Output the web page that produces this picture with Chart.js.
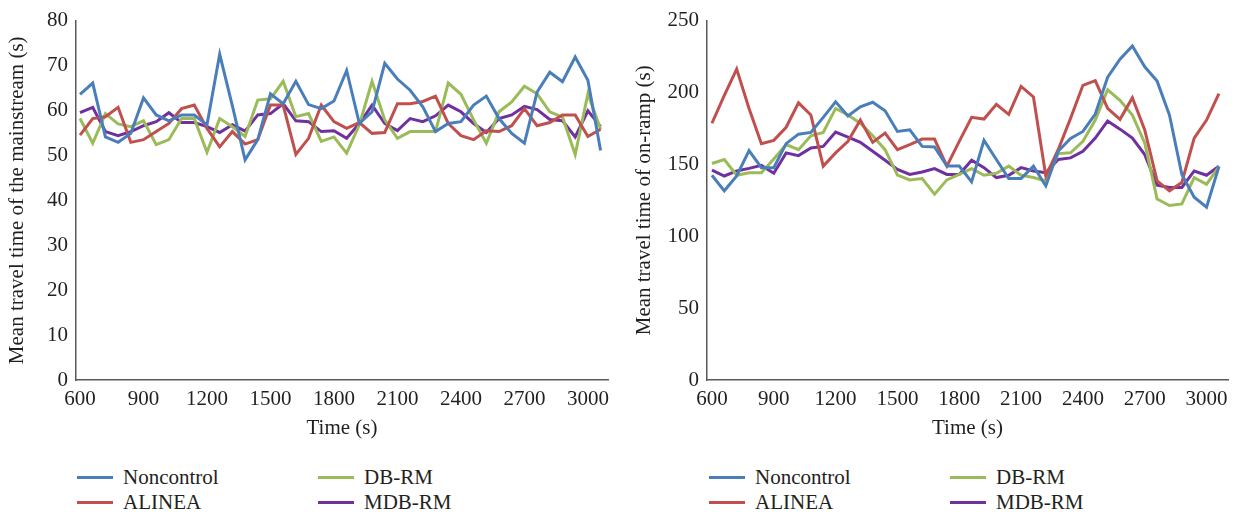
<!DOCTYPE html>
<html>
<head>
<meta charset="utf-8">
<script src="https://cdn.jsdelivr.net/npm/chart.js@4.4.0/dist/chart.umd.min.js"></script>
<style>
body { margin:0; background:#fff; width:1238px; height:514px; position:relative; overflow:hidden; font-family:'Liberation Serif', serif; }
.box { position:absolute; top:0; width:619px; height:445px; }
.item { position:absolute; height:26px; display:flex; align-items:center; white-space:nowrap; font-size:21px; color:#231f20; }
.item .line { display:inline-block; width:36px; height:3px; margin-right:10px; }
</style>
</head>
<body>
<div class="box" style="left:0"><canvas id="mainstreamChart" width="619" height="445"></canvas></div>
<div class="box" style="left:619px"><canvas id="onrampChart" width="619" height="445"></canvas></div>
<div id="legendLeft"></div>
<div id="legendRight"></div>
<script>
let times = [600, 660, 720, 780, 840, 900, 960, 1020, 1080, 1140, 1200, 1260, 1320, 1380, 1440, 1500, 1560, 1620, 1680, 1740, 1800,
    1860, 1920, 1980, 2040, 2100, 2160, 2220, 2280, 2340, 2400, 2460, 2520, 2580, 2640, 2700, 2760, 2820, 2880, 2940, 3000, 3060];
let xTicks = [600, 900, 1200, 1500, 1800, 2100, 2400, 2700, 3000];
let seriesNames = ['Noncontrol', 'ALINEA', 'DB-RM', 'MDB-RM'];
let seriesColors = ['#4a7ebb', '#c0504d', '#9bbb59', '#7030a0'];

// mean travel time of the mainstream (s)
let noncontrolMain = [63.6, 66.1, 54.1, 52.9, 54.9, 62.8, 59.0, 57.7, 59.0, 59.0, 56.8, 72.5, 61.0, 49.0, 53.5, 63.7, 61.5, 66.5, 61.3, 60.4, 62.1,
    68.9, 57.1, 59.7, 70.5, 67.0, 64.5, 60.8, 55.3, 57.1, 57.5, 61.2, 63.2, 58.2, 54.9, 52.7, 64.1, 68.5, 66.4, 71.9, 66.7, 51.1];
let alineaMain = [54.5, 58.2, 58.6, 60.7, 52.9, 53.5, 55.3, 57.1, 60.4, 61.2, 56.0, 51.9, 55.3, 52.5, 53.5, 61.2, 61.2, 50.2, 53.8, 61.2, 57.5,
    56.0, 57.3, 54.9, 55.1, 61.5, 61.5, 62.0, 63.2, 57.1, 54.4, 53.5, 55.5, 55.3, 56.6, 60.4, 56.6, 57.3, 59.0, 59.0, 54.2, 55.8];
let dbrmMain = [58.2, 52.7, 59.3, 57.0, 56.4, 57.7, 52.4, 53.5, 58.2, 58.2, 50.7, 58.2, 56.4, 54.2, 62.3, 62.6, 66.5, 58.6, 59.3, 53.1, 54.1,
    50.5, 56.8, 66.5, 57.9, 53.8, 55.3, 55.3, 55.3, 66.1, 63.6, 57.9, 52.7, 59.7, 61.9, 65.4, 63.7, 59.7, 58.5, 50.2, 63.7, 55.8];
let mdbrmMain = [59.5, 60.7, 55.3, 54.4, 55.3, 56.6, 57.5, 59.5, 57.3, 57.3, 56.4, 55.1, 56.8, 55.4, 59.0, 59.3, 61.5, 57.7, 57.5, 55.3, 55.5,
    53.8, 57.1, 61.2, 57.1, 55.5, 58.2, 57.5, 58.8, 61.2, 59.7, 57.1, 55.1, 58.2, 59.0, 60.9, 60.2, 58.0, 57.7, 54.1, 59.9, 56.4];

// mean travel time of on-ramp (s)
let noncontrolRamp = [142.4, 131.6, 141.9, 159.6, 147.7, 147.7, 164.4, 171.0, 172.2, 182.7, 193.5, 183.6, 190.0, 193.2, 187.3, 172.9, 174.0, 162.5, 162.1, 148.8, 148.8,
    137.8, 166.7, 153.4, 140.1, 140.1, 148.8, 135.0, 159.1, 168.0, 172.9, 185.0, 210.6, 223.2, 232.4, 217.9, 207.9, 184.3, 143.0, 127.1, 120.2, 148.4];
let alineaRamp = [178.6, 198.0, 216.3, 188.9, 164.4, 166.7, 175.8, 192.8, 184.3, 148.8, 158.0, 166.0, 180.8, 165.3, 171.7, 160.2, 163.7, 167.6, 167.6, 148.8, 166.0,
    182.7, 181.5, 191.8, 184.8, 204.2, 196.9, 141.9, 160.2, 182.0, 205.0, 208.3, 188.9, 181.3, 196.4, 174.0, 138.5, 131.6, 137.4, 168.3, 180.8, 199.2];
let dbrmRamp = [150.6, 153.4, 142.4, 144.2, 144.2, 153.8, 163.7, 160.2, 169.9, 172.2, 188.9, 184.3, 178.6, 169.9, 160.2, 142.5, 139.2, 140.1, 129.3, 139.2, 143.0,
    147.0, 142.4, 143.8, 148.8, 142.4, 140.8, 138.5, 157.5, 158.0, 166.0, 180.8, 201.9, 194.6, 184.3, 164.8, 125.9, 121.4, 122.5, 140.8, 136.2, 148.4];
let mdbrmRamp = [146.0, 141.9, 145.4, 147.2, 149.3, 143.8, 158.0, 156.1, 161.4, 162.5, 172.5, 169.0, 165.3, 159.1, 152.9, 146.5, 143.0, 144.7, 147.0, 143.0, 143.0,
    152.9, 147.7, 140.8, 142.4, 147.7, 145.4, 144.2, 153.4, 154.5, 159.1, 168.3, 180.2, 174.5, 168.3, 156.8, 135.5, 133.9, 133.9, 145.4, 142.4, 148.8];

let textColor = '#231f20';
let axisFont = { family: 'Liberation Serif', size: 21 };

function buildChart(canvasId, seriesList, yTitle, yMax, yStep, opts) {
    let ctx = document.getElementById(canvasId).getContext('2d');
    return new Chart(ctx, {
        type: 'line',
        data: {
            datasets: seriesList.map((values, i) => ({
                label: seriesNames[i],
                data: times.map((t, j) => ({ x: t, y: values[j] })),
                borderColor: seriesColors[i],
                backgroundColor: seriesColors[i],
                borderWidth: 3,
                tension: 0,
                pointRadius: 0,
                fill: false
            }))
        },
        options: {
            responsive: false,
            animation: false,
            layout: { padding: { top: 16, right: opts.padRight, left: 0, bottom: 0 } },
            plugins: { legend: { display: false }, tooltip: { enabled: false } },
            scales: {
                x: {
                    type: 'linear',
                    min: opts.xMin,
                    max: opts.xMax,
                    afterBuildTicks: (scale) => { scale.ticks = xTicks.map(v => ({ value: v })); },
                    afterFit: (scale) => { scale.height = 65; },
                    grid: { display: false, drawTicks: false },
                    border: { color: '#595959', width: 1.5 },
                    ticks: { font: axisFont, color: textColor, padding: 7, autoSkip: false, maxRotation: 0, callback: v => String(v) },
                    title: { display: true, text: 'Time (s)', font: axisFont, color: textColor, padding: { top: 0, bottom: 4 } }
                },
                y: {
                    min: 0,
                    max: yMax,
                    afterFit: (scale) => { scale.width = opts.yWidth; },
                    grid: { display: false, drawTicks: false },
                    border: { color: '#595959', width: 1.5 },
                    ticks: { stepSize: yStep, font: axisFont, color: textColor, padding: 8 },
                    title: { display: true, text: yTitle, font: axisFont, color: textColor, padding: { top: opts.titlePad, bottom: 0 } }
                }
            }
        }
    });
}

buildChart('mainstreamChart', [noncontrolMain, alineaMain, dbrmMain, mdbrmMain],
    'Mean travel time of the mainstream (s)', 80, 10,
    { xMin: 581, xMax: 3095, yWidth: 76, titlePad: 5, padRight: 11 });
buildChart('onrampChart', [noncontrolRamp, alineaRamp, dbrmRamp, mdbrmRamp],
    'Mean travel time of on-ramp (s)', 250, 50,
    { xMin: 576, xMax: 3104, yWidth: 88, titlePad: 13, padRight: 10 });

function buildLegend(id, left) {
    let box = document.getElementById(id);
    seriesNames.forEach((name, i) => {
        let item = document.createElement('div');
        item.className = 'item';
        item.style.left = (left + Math.floor(i / 2) * 241) + 'px';
        item.style.top = (464 + (i % 2) * 25) + 'px';
        let line = document.createElement('span');
        line.className = 'line';
        line.style.background = seriesColors[i];
        item.appendChild(line);
        item.appendChild(document.createTextNode(name));
        box.appendChild(item);
    });
}

buildLegend('legendLeft', 77);
buildLegend('legendRight', 709);
</script>
</body>
</html>
